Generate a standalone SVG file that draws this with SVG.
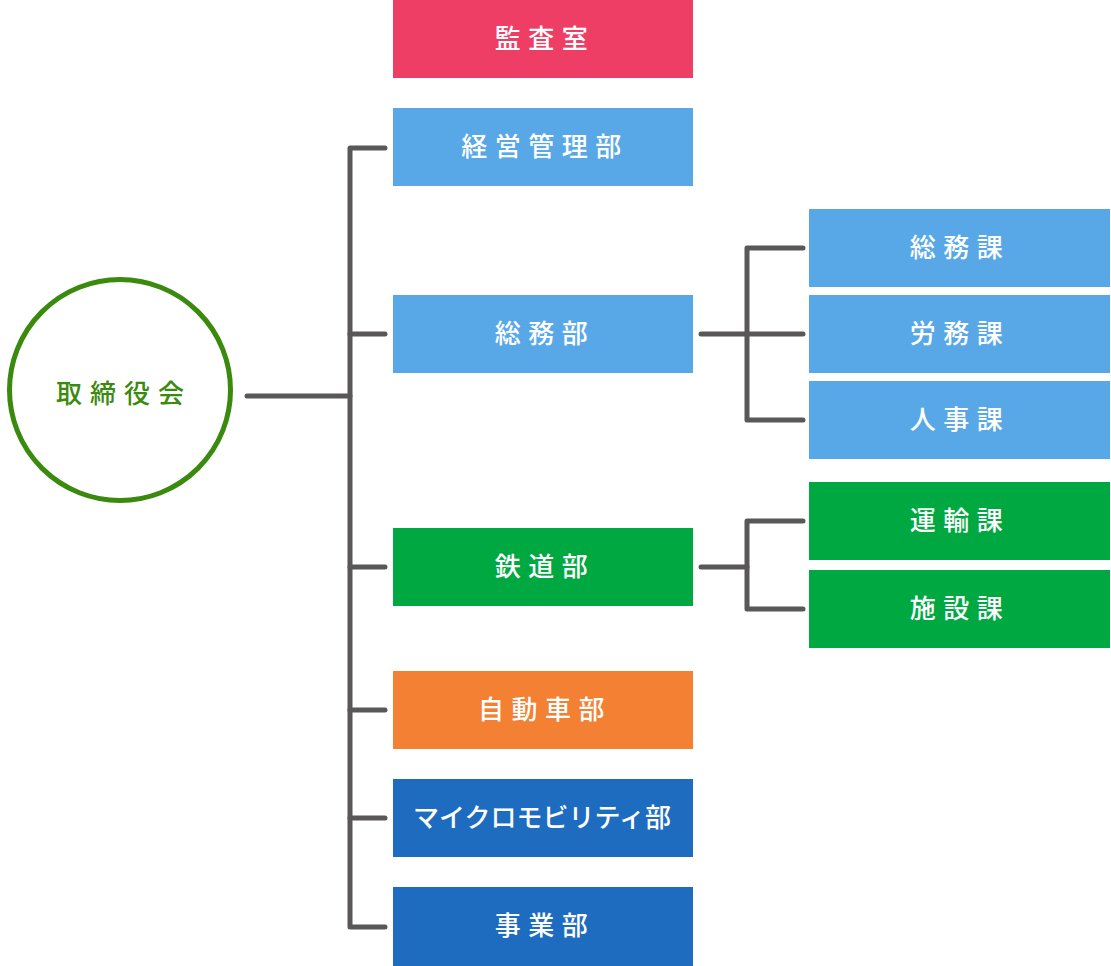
<svg xmlns="http://www.w3.org/2000/svg" width="1111" height="966" viewBox="0 0 1111 966">
<style>
.t{font-family:"Noto Sans CJK JP","Noto Sans",sans-serif;font-size:26px;font-weight:500;fill:#fff;text-anchor:middle;letter-spacing:7.5px}
.k{letter-spacing:0}
.c{fill:none;stroke:#595757;stroke-width:5;stroke-linecap:round;stroke-linejoin:round}
.red{fill:#ee3e65}.lb{fill:#58a8e8}.gr{fill:#00a842}.or{fill:#f38033}.db{fill:#1d6cbf}
</style>
<rect width="1111" height="966" fill="#fff"/>
<g id="connectors" class="c">
<path d="M247 396H350"/>
<path d="M385 148H350V927H385"/>
<path d="M350 334H385M350 567H385M350 710H385M350 818H385"/>
<path d="M701 334H803"/>
<path d="M803 248H747V420H803"/>
<path d="M701 567H747"/>
<path d="M803 521H747V609H803"/>
</g>
<g id="board">
<circle cx="120" cy="390" r="110.5" fill="#fff" stroke="#3a8a0e" stroke-width="5"/>
<text class="t" x="124" y="403" style="fill:#3a8a0e;letter-spacing:8px">取締役会</text>
</g>
<g id="kansa"><rect class="red" x="393" y="0" width="300" height="78"/><text class="t" x="545" y="48">監査室</text></g>
<g id="keiei"><rect class="lb" x="393" y="108" width="300" height="78"/><text class="t" x="545" y="156">経営管理部</text></g>
<g id="somu"><rect class="lb" x="393" y="295" width="300" height="78"/><text class="t" x="545" y="343">総務部</text></g>
<g id="tetsudo"><rect class="gr" x="393" y="528" width="300" height="78"/><text class="t" x="545" y="576">鉄道部</text></g>
<g id="jidosha"><rect class="or" x="393" y="671" width="300" height="78"/><text class="t" x="545" y="719">自動車部</text></g>
<g id="micro"><rect class="db" x="393" y="779" width="300" height="78"/><text class="t k" x="542" y="827">マイクロモビリティ部</text></g>
<g id="jigyo"><rect class="db" x="393" y="887" width="300" height="79"/><text class="t" x="545" y="935">事業部</text></g>
<g id="somuka"><rect class="lb" x="809" y="209" width="301" height="78"/><text class="t" x="960" y="257">総務課</text></g>
<g id="romuka"><rect class="lb" x="809" y="295" width="301" height="78"/><text class="t" x="960" y="343">労務課</text></g>
<g id="jinjika"><rect class="lb" x="809" y="381" width="301" height="78"/><text class="t" x="960" y="429">人事課</text></g>
<g id="unyuka"><rect class="gr" x="809" y="482" width="301" height="78"/><text class="t" x="960" y="530">運輸課</text></g>
<g id="shisetsuka"><rect class="gr" x="809" y="570" width="301" height="78"/><text class="t" x="960" y="618">施設課</text></g>
</svg>
